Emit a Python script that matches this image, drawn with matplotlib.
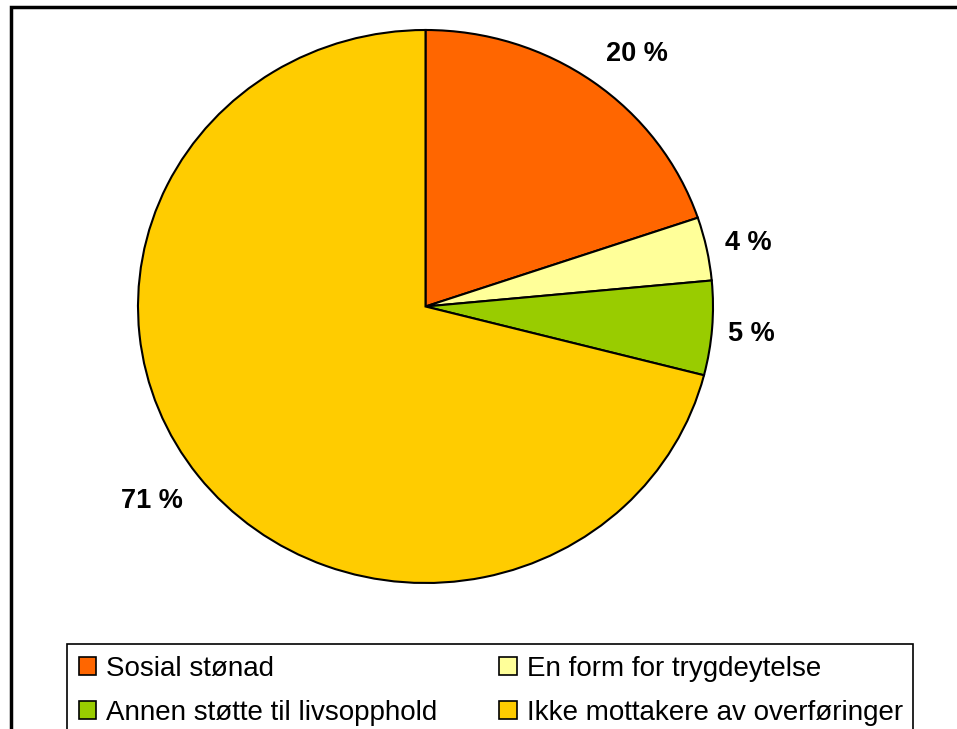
import matplotlib
matplotlib.use("Agg")
import matplotlib.pyplot as plt
from matplotlib.patches import Rectangle

plt.rcParams['font.family'] = ['Liberation Sans', 'DejaVu Sans']

categories = ["Sosial stønad", "En form for trygdeytelse",
              "Annen støtte til livsopphold", "Ikke mottakere av overføringer"]
values = [19.8, 3.7, 5.5, 71.0]
pct_labels = ["20 %", "4 %", "5 %", "71 %"]
colors = ["#FF6600", "#FFFF99", "#99CC00", "#FFCC00"]

W, H = 957, 729
fig = plt.figure(figsize=(W / 100, H / 100), dpi=100)

# outer frame (cut at right and bottom)
fig.patches.append(Rectangle((11 / W, -0.05), 1.2, 1 - 6.5 / H + 0.05,
                             transform=fig.transFigure, fill=False,
                             edgecolor="black", linewidth=2.5))
# legend frame (cut at bottom)
fig.patches.append(Rectangle((67 / W, -0.05), 846 / W, 1 - 644 / H + 0.05,
                             transform=fig.transFigure, fill=False,
                             edgecolor="black", linewidth=1.2))

cx, cy, rx, ry = 425.5, 306.5, 287.5, 276.5
ax = fig.add_axes([(cx - rx) / W, 1 - (cy + ry) / H, 2 * rx / W, 2 * ry / H])
wedges, texts = ax.pie(values, labels=pct_labels, colors=colors, startangle=90,
                       counterclock=False, labeldistance=1.155,
                       wedgeprops=dict(edgecolor="black", linewidth=1.5),
                       textprops=dict(fontsize=19.5, fontweight="bold",
                                      ha="center", va="center", color="black"))
# label placement like the original (outside ends)
label_pos = [(0.736, 0.915), (1.122, 0.228), (1.132, -0.098), (-0.951, -0.703)]
for t, p in zip(texts, label_pos):
    t.set_position(p)
ax.set_aspect("auto")
ax.set_xlim(-1, 1)
ax.set_ylim(-1, 1)
ax.axis("off")

order = [0, 2, 1, 3]
leg = fig.legend([wedges[i] for i in order], [categories[i] for i in order],
                 ncol=2, loc="upper left",
                 bbox_to_anchor=(67 / W, 1 - 644 / H),
                 borderaxespad=0, fontsize=20, frameon=False,
                 handlelength=0.62, handleheight=0.62, handletextpad=0.38,
                 labelspacing=0.66, borderpad=0.42, columnspacing=2.22)
for h in leg.legend_handles:
    h.set_edgecolor("black")
    h.set_linewidth(1.2)

fig.savefig("out.png", dpi=100)
